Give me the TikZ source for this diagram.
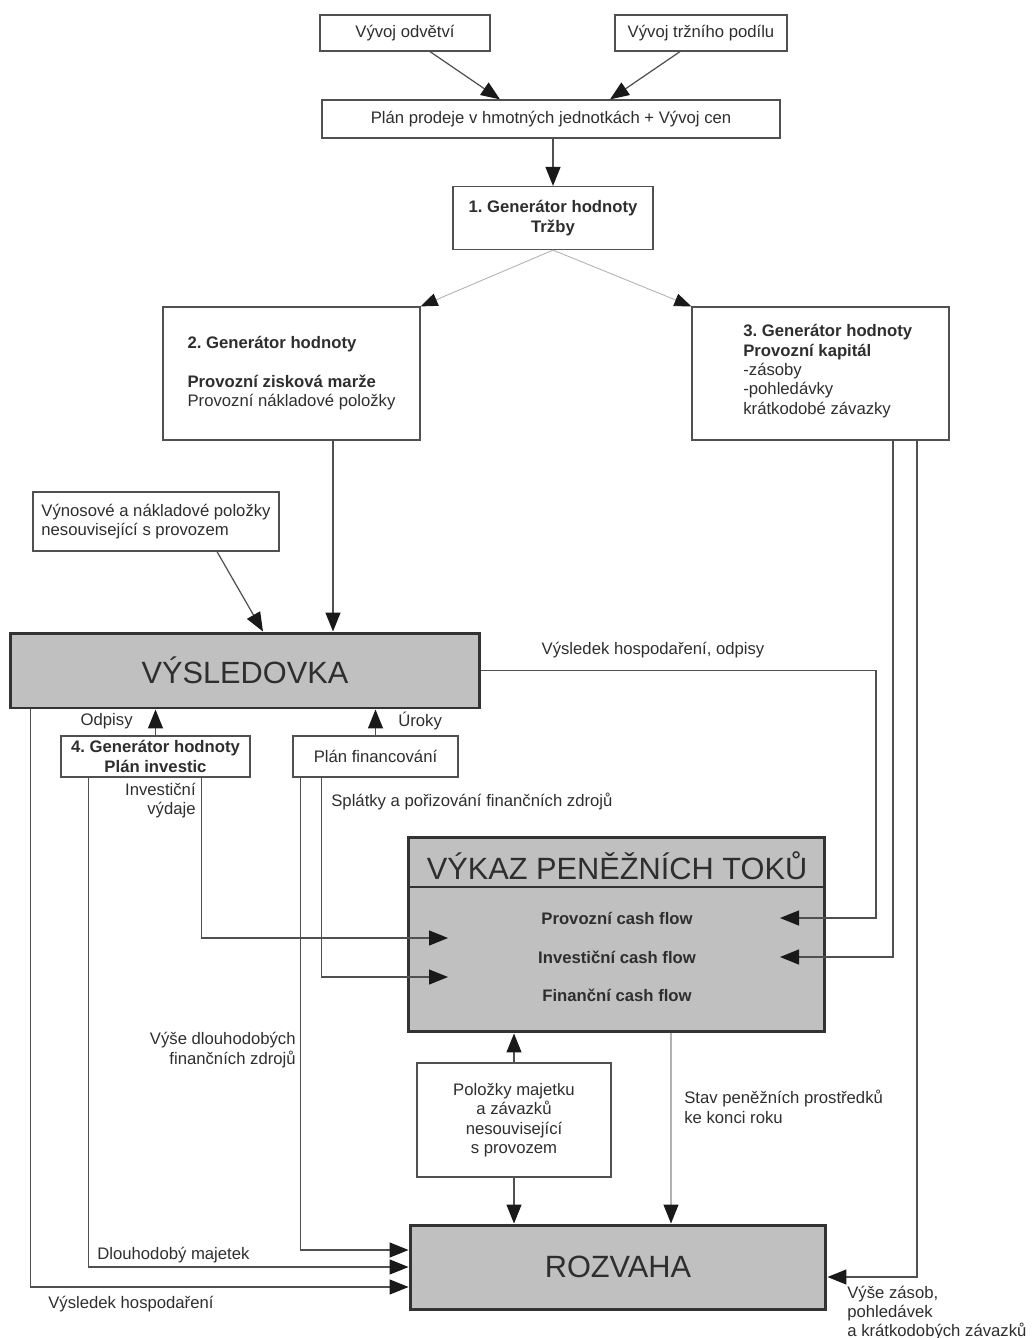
\documentclass[tikz,border=0pt]{standalone}
\usepackage{fontspec}
\setmainfont{Liberation Sans}
\usetikzlibrary{arrows.meta}
\frenchspacing

\definecolor{sheetgray}{HTML}{C0C0C0}
\definecolor{linegray}{HTML}{505050}
\definecolor{textgray}{HTML}{2E2E2E}

\begin{document}
\begin{tikzpicture}[x=0.02cm, y=-0.02cm,
    every node/.style={text=textgray, font=\fontsize{9.5}{11}\selectfont},
    box/.style={draw=linegray, line width=0.7pt, fill=white, inner sep=2pt},
    sheet/.style={draw=black!80, line width=1.7pt, fill=sheetgray},
    title/.style={font=\fontsize{17.5}{20}\selectfont},
    bold/.style={font=\fontsize{9.5}{11}\selectfont\bfseries},
    lbl/.style={inner sep=0pt},
    arr/.style={draw=linegray, line width=0.7pt, -{Triangle[length=0.38cm, width=0.3cm, color=black!90]}},
    thinarr/.style={draw=black!30, line width=0.5pt, -{Triangle[length=0.34cm, width=0.26cm, color=black!90]}}]

        \useasboundingbox (0,0) rectangle (1035,1338);

        % sales plan
        \node[box, minimum width=3.4cm, minimum height=0.72cm] (odvetvi) at (405,33) {Vývoj odvětví};
        \node[box, minimum width=3.44cm, minimum height=0.72cm] (podil) at (701,33) {Vývoj tržního podílu};
        \node[box, minimum width=9.16cm, minimum height=0.76cm] (prodej) at (551,119) {Plán prodeje v hmotných jednotkách + Vývoj cen};
        \node[box, bold, align=center, minimum width=4cm, minimum height=1.26cm] (trzby) at (553,218) {1. Generátor hodnoty\\Tržby};

        \draw[arr] ([xshift=0.5cm]odvetvi.south) -- ([xshift=-1.02cm]prodej.north);
        \draw[arr] ([xshift=-0.42cm]podil.south) -- ([xshift=1.18cm]prodej.north);
        \draw[arr] (prodej.south -| trzby.north) -- (trzby.north);

        % value generators 2 and 3
        \node[box, align=left, minimum width=5.14cm, minimum height=2.66cm] (gen2) at (291.5,373.5) {\textbf{2. Generátor hodnoty}\\[11pt]\textbf{Provozní zisková marže}\\Provozní nákladové položky};
        \node[box, minimum width=5.14cm, minimum height=2.66cm] (gen3) at (820.5,373.5) {};
        \node[lbl, anchor=west, align=left] (gen3txt) at (743,371) {\textbf{3. Generátor hodnoty}\\\textbf{Provozní kapitál}\\-zásoby\\-pohledávky\\krátkodobé závazky};

        \draw[thinarr] (trzby.south) -- (gen2.north east);
        \draw[thinarr] (trzby.south) -- (gen3.north west);

        % income statement
        \node[box, align=left, minimum width=4.92cm, minimum height=1.18cm] (vynosy) at (156,521.5) {Výnosové a nákladové položky\\nesouvisející s provozem};
        \node[sheet, title, minimum width=9.4cm, minimum height=1.5cm] (vysledovka) at (245,670.5) {VÝSLEDOVKA};

        \coordinate (g2out) at ([xshift=0.83cm]gen2.south);
        \draw[arr] ([xshift=1.22cm]vynosy.south) -- ([xshift=0.36cm]vysledovka.north);
        \draw[arr] (g2out) -- (g2out |- vysledovka.north);

        \node[box, bold, align=center, inner sep=1pt, minimum width=3.78cm, minimum height=0.82cm] (investice) at (155.5,756.5) {4. Generátor hodnoty\\Plán investic};
        \node[box, minimum width=3.3cm, minimum height=0.82cm] (financovani) at (375.5,756.5) {Plán financování};

        \draw[arr] (investice.north) -- (investice.north |- vysledovka.south);
        \draw[arr] (financovani.north) -- (financovani.north |- vysledovka.south);
        \node[lbl, anchor=east] (odpisy) at (133,721) {Odpisy};
        \node[lbl, anchor=west] (uroky) at (398,721) {Úroky};

        % cash flow statement
        \node[sheet, minimum width=8.34cm, minimum height=3.9cm] (vykaz) at (616.5,934.5) {};
        \draw[draw=black!80, line width=1pt] (vykaz.west |- 0,887) -- (vykaz.east |- 0,887);
        \node[title] (vykaztitle) at (617,866) {VÝKAZ PENĚŽNÍCH TOKŮ};
        \node[bold] (provcf) at (617,918) {Provozní cash flow};
        \node[bold] (invcf) at (617,957) {Investiční cash flow};
        \node[bold] (fincf) at (617,995) {Finanční cash flow};

        \coordinate (provin) at (780,918);
        \coordinate (invright) at (780,957);
        \coordinate (invleft) at (448,938);
        \coordinate (finleft) at (448,977);

        % balance sheet
        \node[box, align=center, minimum width=3.88cm, minimum height=2.28cm] (polozky) at (514,1120) {Položky majetku\\a závazků\\nesouvisející\\s provozem};
        \node[sheet, title, minimum width=8.32cm, minimum height=1.68cm] (rozvaha) at (618,1267) {ROZVAHA};

        \draw[arr] (polozky.north) -- (polozky.north |- vykaz.south);
        \draw[arr] (polozky.south) -- (polozky.south |- rozvaha.north);
        \coordinate (cashout) at ([xshift=1.09cm]vykaz.south);
        \draw[arr, draw=black!30] (cashout) -- (cashout |- rozvaha.north);

        % flows on the left
        \coordinate (vhout) at ([xshift=0.44cm]vysledovka.south west);
        \coordinate (invout1) at ([xshift=0.56cm]investice.south west);
        \coordinate (invout2) at ([xshift=-0.98cm]investice.south east);
        \coordinate (finout1) at ([xshift=0.16cm]financovani.south west);
        \coordinate (finout2) at ([xshift=0.58cm]financovani.south west);

        \draw[arr] (vhout) |- ([yshift=-0.4cm]rozvaha.west);
        \draw[arr] (invout1) |- (rozvaha.west);
        \draw[arr] (invout2) |- (invleft);
        \draw[arr] (finout1) |- ([yshift=0.34cm]rozvaha.west);
        \draw[arr] (finout2) |- (finleft);

        % flows on the right
        \coordinate (g3out1) at ([xshift=1.45cm]gen3.south);
        \coordinate (g3out2) at ([xshift=1.93cm]gen3.south);

        \draw[arr] (vysledovka.east) -| ([xshift=1.92cm]provin) -- (provin);
        \draw[arr] (g3out1) |- (invright);
        \draw[arr] (g3out2) |- ([yshift=-0.2cm]rozvaha.east);

        % labels
        \node[lbl] (vhodpisy) at (653,650) {Výsledek hospodaření, odpisy};
        \node[lbl, anchor=north east, align=right] (invvydaje) at (196,783) {Investiční\\výdaje};
        \node[lbl, anchor=west] (splatky) at (331,801) {Splátky a pořizování finančních zdrojů};
        \node[lbl, anchor=east, align=right] (dlzdroje) at (296,1050) {Výše dlouhodobých\\finančních zdrojů};
        \node[lbl, anchor=west] (dlmajetek) at (97,1255) {Dlouhodobý majetek};
        \node[lbl, anchor=west] (vh) at (48,1304) {Výsledek hospodaření};
        \node[lbl, anchor=west, align=left] (stav) at (684,1107) {Stav peněžních prostředků\\ke konci roku};
        \node[lbl, anchor=west, align=left] (zasoby) at (847,1313) {Výše zásob,\\pohledávek\\a krátkodobých závazků};

\end{tikzpicture}
\end{document}
